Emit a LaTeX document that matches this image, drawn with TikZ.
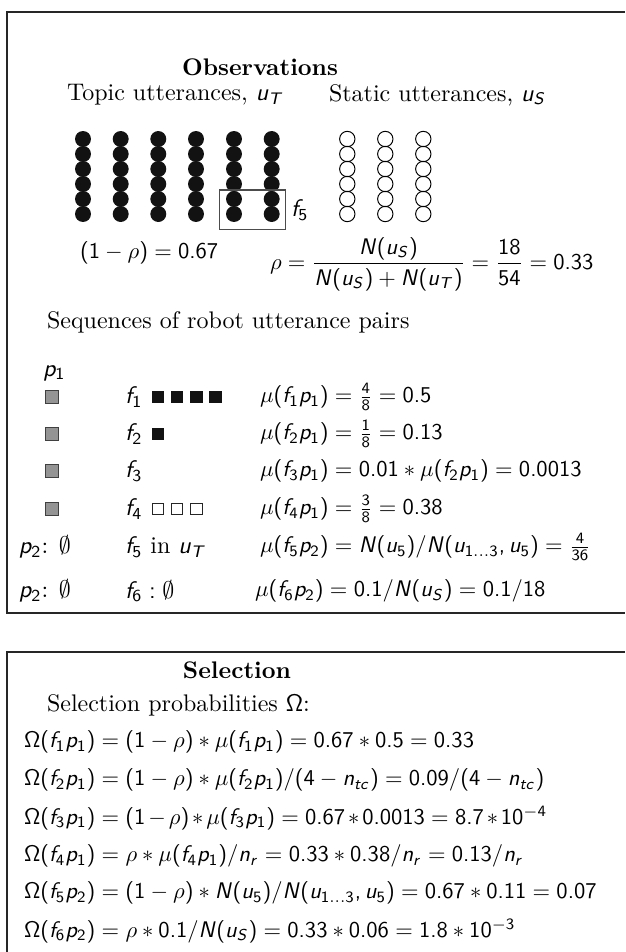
\documentclass[tikz,border=0pt]{standalone}
\usepackage{amsmath}
\usepackage{graphicx}
% sans-serif digits and operators, slanted sans Latin letters, Greek kept from CM
\SetSymbolFont{operators}{normal}{OT1}{cmss}{m}{n}
\DeclareSymbolFont{sfslanted}{OT1}{cmss}{m}{sl}
\makeatletter
\newcount\sf@ltr
\def\sf@setrange#1#2{%
  \sf@ltr=#1\relax
  \loop
    \mathcode\sf@ltr=\numexpr"7000+"100*\symsfslanted+\sf@ltr\relax
    \advance\sf@ltr by 1
  \ifnum\sf@ltr<#2\repeat}
\sf@setrange{97}{123}
\sf@setrange{65}{91}
\makeatother
\mathcode`\/="002F
\mathcode`\.="002E
\mathcode`\,="602C
% formulas are set slightly narrower than the running text
\newcommand\mrowfit[1]{\scalebox{0.94}{#1}}

\begin{document}
\begin{tikzpicture}[x=0.41667pt,y=-0.41667pt,
  txt/.style={inner sep=0pt, outer sep=0pt, anchor=west},
  ctxt/.style={inner sep=0pt, outer sep=0pt},
  frame/.style={draw=black!85, line width=0.6pt},
  topicdot/.style={fill=black!93},
  staticdot/.style={draw=black, line width=0.4pt},
  pairsq/.style={draw=black!75, fill=black!42, line width=0.35pt, minimum size=5.4pt, inner sep=0pt},
  topicsq/.style={fill=black!93, minimum size=5.4pt, inner sep=0pt},
  staticsq/.style={draw=black!85, fill=white, line width=0.35pt, minimum size=4.9pt, inner sep=0pt},
  f5box/.style={draw=black!70, line width=0.45pt}
]
\useasboundingbox (0,0) rectangle (625,952);

% ---------- Observations panel ----------
\draw[frame] (625,12) -| (7,613) -- (625,613);
\node[ctxt, font=\bfseries] (obs) at (260,67) {Observations};
\node[txt] (topic) at (67,95) {Topic utterances, $u_T$};
\node[txt] (static) at (329,95) {Static utterances, $u_S$};

% topic utterances: six columns of six filled circles
\foreach \cx in {83,120.7,158.3,196,234,271.7}
  \foreach \k in {0,...,5}
    \fill[topicdot] (\cx,139+15*\k) circle[radius=3.33pt];
% static utterances: three columns of six open circles
\foreach \cx in {347.3,385.3,423.3}
  \foreach \k in {0,...,5}
    \draw[staticdot] (\cx,139+15*\k) circle[radius=3.2pt];

\draw[f5box] (219.3,190) rectangle (285.7,229.3);
\node[txt] (f5lab) at (291,210) {$f_5$};

\node[txt] (onemrho) at (80,253) {\mrowfit{$(1-\rho)=0.67$}};
\node[txt] (rho) at (270,264) {\mrowfit{$\rho=\dfrac{N(u_S)}{N(u_S)+N(u_T)}=\dfrac{18}{54}=0.33$}};

\node[txt] (seq) at (47,322) {Sequences of robot utterance pairs};
\node[txt] (p1) at (43,373) {$p_1$};

% robot utterance pair rows
\foreach \r/\yy in {1/397,2/434,3/471,4/509}
  \node[pairsq] (pair\r) at (52,\yy) {};
\node[txt] (p2a) at (19,547) {$p_2$: $\emptyset$};
\node[txt] (p2b) at (19,591) {$p_2$: $\emptyset$};

\node[txt] (f1) at (125,397) {$f_1$};
\node[txt] (f2) at (125,434) {$f_2$};
\node[txt] (f3) at (125,471) {$f_3$};
\node[txt] (f4) at (125,509) {$f_4$};
\node[txt] (f5) at (125,547) {$f_5$ in $u_T$};
\node[txt] (f6) at (125,591) {$f_6:\emptyset$};

\foreach \i/\cx in {1/158,2/177,3/196.3,4/215.7}
  \node[topicsq] (tsqa\i) at (\cx,397) {};
\node[topicsq] (tsqb1) at (158,434) {};
\foreach \i/\cx in {1/158,2/177,3/196.3}
  \node[staticsq] (ssq\i) at (\cx,509) {};

\node[txt] (mu1) at (260,397) {\mrowfit{$\mu(f_1p_1)=\frac{4}{8}=0.5$}};
\node[txt] (mu2) at (260,434) {\mrowfit{$\mu(f_2p_1)=\frac{1}{8}=0.13$}};
\node[txt] (mu3) at (260,471) {\mrowfit{$\mu(f_3p_1)=0.01*\mu(f_2p_1)=0.0013$}};
\node[txt] (mu4) at (260,509) {\mrowfit{$\mu(f_4p_1)=\frac{3}{8}=0.38$}};
\node[txt] (mu5) at (260,547) {\mrowfit{$\mu(f_5p_2)=N(u_5)/N(u_{1\ldots3},u_5)=\frac{4}{36}$}};
\node[txt] (mu6) at (255,591) {\mrowfit{$\mu(f_6p_2)=0.1/N(u_S)=0.1/18$}};

% ---------- Selection panel ----------
\draw[frame] (625,652) -| (7,960);
\node[ctxt, font=\bfseries] (sel) at (237,670) {Selection};
\node[txt] (selprob) at (47,705) {Selection probabilities $\Omega$:};

\node[txt] (om1) at (24,742) {\mrowfit{$\Omega(f_1p_1)=(1-\rho)*\mu(f_1p_1)=0.67*0.5=0.33$}};
\node[txt] (om2) at (24,780) {\mrowfit{$\Omega(f_2p_1)=(1-\rho)*\mu(f_2p_1)/(4-n_{tc})=0.09/(4-n_{tc})$}};
\node[txt] (om3) at (24,818) {\mrowfit{$\medmuskip=2.3mu\Omega(f_3p_1)=(1-\rho)*\mu(f_3p_1)=0.67*0.0013=8.7*10^{-4}$}};
\node[txt] (om4) at (24,856) {\mrowfit{$\Omega(f_4p_1)=\rho*\mu(f_4p_1)/n_r=0.33*0.38/n_r=0.13/n_r$}};
\node[txt] (om5) at (24,893) {\mrowfit{$\Omega(f_5p_2)=(1-\rho)*N(u_5)/N(u_{1\ldots3},u_5)=0.67*0.11=0.07$}};
\node[txt] (om6) at (24,931) {\mrowfit{$\Omega(f_6p_2)=\rho*0.1/N(u_S)=0.33*0.06=1.8*10^{-3}$}};
\end{tikzpicture}
\end{document}
